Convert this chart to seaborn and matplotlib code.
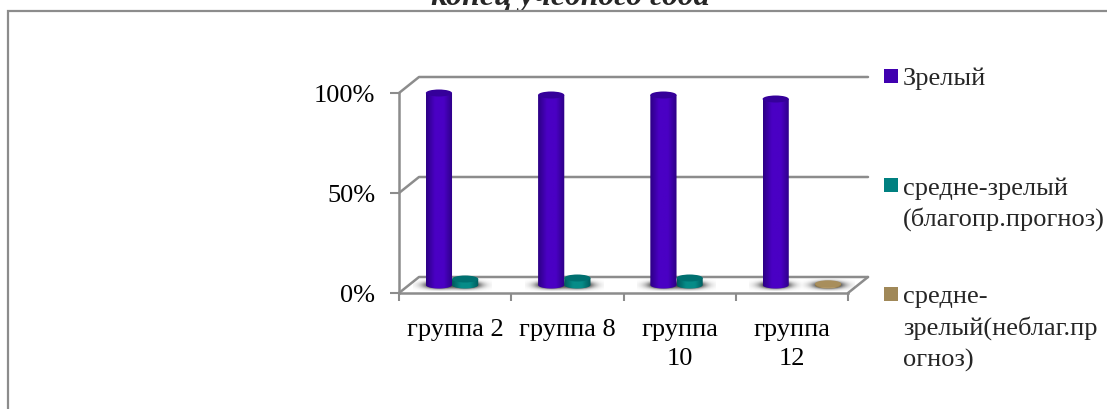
import numpy as np
import pandas as pd
import matplotlib.pyplot as plt
from matplotlib.patches import Ellipse, PathPatch, Rectangle
from matplotlib.path import Path
from matplotlib.colors import LinearSegmentedColormap
import seaborn as sns

groups = ['группа 2', 'группа 8', 'группа\n10', 'группа\n12']
series_names = ['Зрелый', 'средне-зрелый\n(благопр.прогноз)', 'средне-\nзрелый(неблаг.пр\nогноз)']
mature = [96, 95, 95, 93]
mid_good = [3, 3.5, 3.5, 0]
mid_bad = [0, 0, 0, 0.6]
y_ticks = [0, 50, 100]
y_labels = ['0%', '50%', '100%']
title_text = 'конец учебного года'

# цвета: основной, светлый центр, тёмный край, верх цилиндра
colors = ['#4000B0', '#008080', '#A08858']
light = ['#4A00C4', '#068C88', '#B49A68']
dark = ['#2C0084', '#005A5C', '#8C7648']
cap = ['#35009A', '#007070', '#A88E5C']
GRAY = '#8C8C8C'
W, H = 1107, 409

sns.set_theme(style='white')
plt.rcParams['font.family'] = ['Liberation Serif', 'DejaVu Serif']

df = pd.DataFrame({
    'группа': groups * 3,
    'серия': np.repeat(series_names, len(groups)),
    'значение': mature + mid_good + mid_bad,
})


def px_axes(fig, left, right, top, bottom):
    return fig.add_axes([left / W, 1 - bottom / H, (right - left) / W, (bottom - top) / H])


fig = plt.figure(figsize=(W / 100, H / 100), dpi=100)

# фон: рамка, задняя стенка и легенда в пикселях
bg = fig.add_axes([0, 0, 1, 1], zorder=0)
bg.set_xlim(0, W)
bg.set_ylim(H, 0)
bg.axis('off')
bg.text(570, 5, title_text, ha='center', va='baseline', fontsize=23,
        fontweight='bold', fontstyle='italic', clip_on=True, zorder=1)
bg.add_patch(Rectangle((8, 11), W, H, fc='white', ec=GRAY, lw=1.6, zorder=2))
for y0, y1 in [(93, 77), (193, 177), (293, 277)]:
    bg.plot([399, 419, 868], [y0, y1, y1], color=GRAY, lw=1.8, zorder=3)
bg.plot([848, 868], [293, 277], color=GRAY, lw=1.8, zorder=3)

# передняя плоскость с осями и подписями
front = px_axes(fig, 399, 848, 93, 293)
front.set_zorder(1)
front.patch.set_visible(False)
front.set_xlim(0, 4)
front.set_ylim(0, 100)
front.set_xticks(range(5), labels=[])
front.set_xticks(np.arange(4) + 0.5, labels=groups, minor=True)
front.set_yticks(y_ticks, labels=y_labels)
front.tick_params(axis='x', which='major', length=6, width=1.5, color=GRAY, bottom=True)
front.tick_params(axis='x', which='minor', length=0, pad=18.5, labelsize=19, labelcolor='black', bottom=True)
front.tick_params(axis='y', length=6.5, width=1.5, color=GRAY, left=True, pad=10.5, labelsize=19, labelcolor='black')
for lbl in front.get_xticklabels(minor=True):
    lbl.set_linespacing(1.45)
for name in ['top', 'right']:
    front.spines[name].set_visible(False)
for name in ['left', 'bottom']:
    front.spines[name].set_color(GRAY)
    front.spines[name].set_linewidth(1.8)

# столбцы стоят посередине глубины пола
ax = px_axes(fig, 409, 858, 85, 297)
ax.set_zorder(2)
sns.barplot(data=df, x='группа', y='значение', hue='серия', order=groups, hue_order=series_names,
            palette=colors, width=0.7, saturation=1, legend=False, ax=ax)
ax.axis('off')
ax.patch.set_visible(False)

y_per_px = 0.5
yy, xx = np.mgrid[-1:1:60j, -1:1:120j]
shadow_rgba = np.zeros(xx.shape + (4,))
shadow_rgba[..., :3] = 0.2
shadow_rgba[..., 3] = np.clip(1.7 * np.exp(-xx ** 2 * 3.5 - yy ** 2 * 3), 0, 0.9)

for s, bars in enumerate(ax.containers):
    cmap = LinearSegmentedColormap.from_list('c', [dark[s], light[s], light[s], dark[s]])
    for bar in bars:
        h = bar.get_height()
        if h <= 0:
            continue
        x0, bw = bar.get_x(), bar.get_width()
        xc = x0 + bw / 2
        eh = 7 * y_per_px
        ax.imshow(shadow_rgba, extent=(xc - bw * 1.0, xc + bw * 1.0, -6 * y_per_px, 6 * y_per_px),
                  aspect='auto', zorder=1, interpolation='bilinear')
        # корпус цилиндра с круглым низом
        t = np.linspace(np.pi, 2 * np.pi, 30)
        vx = np.r_[x0, xc + bw / 2 * np.cos(t), x0 + bw, x0]
        vy = np.r_[h, eh / 2 * np.sin(t), h, h]
        body = PathPatch(Path(np.c_[vx, vy]), fc='none', ec='none')
        ax.add_patch(body)
        grad = np.linspace(0, 1, 64).reshape(1, -1)
        im = ax.imshow(grad, extent=(x0, x0 + bw, -eh, h), cmap=cmap, aspect='auto', zorder=3,
                       interpolation='bilinear')
        im.set_clip_path(body)
        bar.set_visible(False)
        ax.add_patch(Ellipse((xc, h), bw, eh, fc=cap[s], ec='none', zorder=4))
ax.set_xlim(-0.5, 3.5)
ax.set_ylim(-6, 100)

# легенда
legend_y = [76, 185, 294]
for c, name, y in zip(colors, series_names, legend_y):
    bg.add_patch(Rectangle((884, y - 7), 14, 14, fc=c, ec='none', zorder=3))
    for i, line in enumerate(name.split('\n')):
        bg.text(903, y + 9.5 + i * 31.5, line, ha='left', va='baseline', fontsize=19, zorder=3, clip_on=True)

fig.savefig('out.png', dpi=100)
